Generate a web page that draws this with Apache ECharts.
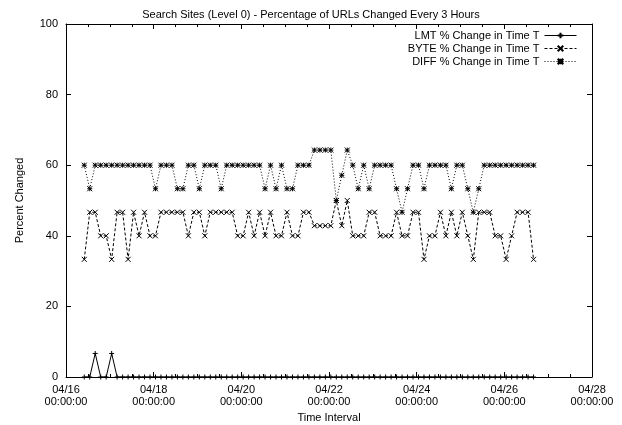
<!DOCTYPE html>
<html>
<head>
<meta charset="utf-8">
<script src="https://cdn.jsdelivr.net/npm/echarts@6/dist/echarts.min.js"></script>
<style>
html,body{margin:0;padding:0;background:#fff;}
#chart{width:622px;height:425px;}
</style>
</head>
<body>
<div id="chart"></div>
<script>
// Sampling: first sample 04/16 10:00, one sample every 3 hours (hours counted from 04/16 00:00)
const startHour = 10;
const stepHours = 3;
const xTickDays = ['04/16', '04/18', '04/20', '04/22', '04/24', '04/26', '04/28'];
const yTicks = [0, 20, 40, 60, 80, 100];
const seriesNames = ['LMT % Change in Time T', 'BYTE % Change in Time T', 'DIFF % Change in Time T'];

const lmtValues = [0,0,6.67,0,0,6.67,0,0,0,0, 0,0,0,0,0,0,0,0,0,0, 0,0,0,0,0,0,0,0,0,0, 0,0,0,0,0,0,0,0,0,0,
  0,0,0,0,0,0,0,0,0,0, 0,0,0,0,0,0,0,0,0,0, 0,0,0,0,0,0,0,0,0,0, 0,0,0,0,0,0,0,0,0,0, 0,0,0];

const byteValues = [33.33, 46.67,46.67, 40,40, 33.33, 46.67,46.67, 33.33, 46.67, 40, 46.67, 40,40,
  46.67,46.67,46.67,46.67,46.67, 40, 46.67,46.67, 40, 46.67,46.67,46.67,46.67,46.67, 40,40, 46.67, 40,
  46.67, 40, 46.67, 40,40, 46.67, 40,40, 46.67,46.67, 42.86,42.86,42.86,42.86, 50, 42.86, 50, 40,40,40,
  46.67,46.67, 40,40,40, 46.67, 40,40, 46.67,46.67, 33.33, 40,40, 46.67, 40, 46.67, 40, 46.67, 40, 33.33,
  46.67,46.67,46.67, 40,40, 33.33, 40, 46.67,46.67,46.67, 33.33];

const diffValues = [60, 53.33, 60,60,60,60,60,60,60,60,60,60,60, 53.33, 60,60,60, 53.33,53.33, 60,60, 53.33,
  60,60,60, 53.33, 60,60,60,60,60,60,60, 53.33, 60, 53.33, 60, 53.33,53.33, 60,60,60, 64.29,64.29,64.29,64.29,
  50, 57.14, 64.29, 60, 53.33, 60, 53.33, 60,60,60,60, 53.33, 46.67, 53.33, 60,60, 53.33, 60,60,60,60, 53.33,
  60,60, 53.33, 46.67, 53.33, 60,60,60,60,60,60,60,60,60,60];

function toPoints(vals) {
  return vals.map((v, i) => [startHour + i * stepHours, v]);
}

const FONT = 'Liberation Sans';
const plusSym = 'path://M0,5L10,5M5,0L5,10';
const crossSym = 'path://M0,0L10,10M10,0L0,10';
const starSym = 'path://M0,5L10,5M5,0L5,10M0,0L10,10M10,0L0,10';

const chart = echarts.init(document.getElementById('chart'), null, {renderer: 'canvas'});

const xCommon = {
  type: 'value', min: 0, max: 288, interval: 48,
  axisLine: {show: true, onZero: false, lineStyle: {color: '#000', width: 1}},
  axisTick: {show: true, inside: true, length: 5, lineStyle: {color: '#000'}},
  minorTick: {show: true, splitNumber: 4, length: 3, lineStyle: {color: '#000'}},
  splitLine: {show: false}, minorSplitLine: {show: false}
};
const yCommon = {
  type: 'value', min: 0, max: 100, interval: 20,
  axisLine: {show: true, onZero: false, lineStyle: {color: '#000', width: 1}},
  axisTick: {show: true, inside: true, length: 5, lineStyle: {color: '#000'}},
  splitLine: {show: false}
};

function mkSeries(name, vals, sym, dash) {
  return {
    name: name, type: 'line', data: toPoints(vals),
    xAxisIndex: 0, yAxisIndex: 0,
    symbol: sym, symbolSize: 5, showAllSymbol: true,
    lineStyle: {color: '#000', width: 1, type: dash},
    itemStyle: {color: '#000', borderColor: '#000', borderWidth: 1},
    emphasis: {disabled: true}
  };
}

chart.setOption({
  animation: false,
  backgroundColor: '#fff',
  textStyle: {fontFamily: FONT, color: '#000'},
  title: {
    text: 'Search Sites (Level 0) - Percentage of URLs Changed Every 3 Hours',
    left: 'center', top: 4,
    textStyle: {fontFamily: FONT, fontSize: 11, fontWeight: 'normal', color: '#000'}
  },
  legend: {
    orient: 'vertical', right: 45, top: 30, align: 'right', padding: 0,
    itemWidth: 32, itemHeight: 7, itemGap: 2,
    textStyle: {fontFamily: FONT, fontSize: 11, color: '#000'},
    lineStyle: {width: 1},
    data: seriesNames
  },
  grid: {left: 66, right: 30, top: 24, bottom: 48, outerBoundsMode: 'none', containLabel: false},
  xAxis: [
    Object.assign({}, xCommon, {
      position: 'bottom',
      name: 'Time Interval', nameLocation: 'middle', nameGap: 28,
      nameTextStyle: {fontFamily: FONT, fontSize: 11, color: '#000'},
      axisLabel: {
        margin: 7, fontFamily: FONT, fontSize: 11, color: '#000', lineHeight: 12,
        formatter: v => xTickDays[Math.round(v / 48)] + '\n00:00:00'
      }
    }),
    Object.assign({}, xCommon, {position: 'top', axisLabel: {show: false}})
  ],
  yAxis: [
    Object.assign({}, yCommon, {
      position: 'left',
      name: 'Percent Changed', nameLocation: 'middle', nameGap: 41,
      nameTextStyle: {fontFamily: FONT, fontSize: 11, color: '#000'},
      axisLabel: {margin: 8, fontFamily: FONT, fontSize: 11, color: '#000',
        formatter: v => String(yTicks[yTicks.indexOf(v)])}
    }),
    Object.assign({}, yCommon, {position: 'right', axisLabel: {show: false}})
  ],
  series: [
    mkSeries(seriesNames[0], lmtValues, plusSym, 'solid'),
    mkSeries(seriesNames[1], byteValues, crossSym, [3, 2]),
    mkSeries(seriesNames[2], diffValues, starSym, [1, 2])
  ]
});
</script>
</body>
</html>
